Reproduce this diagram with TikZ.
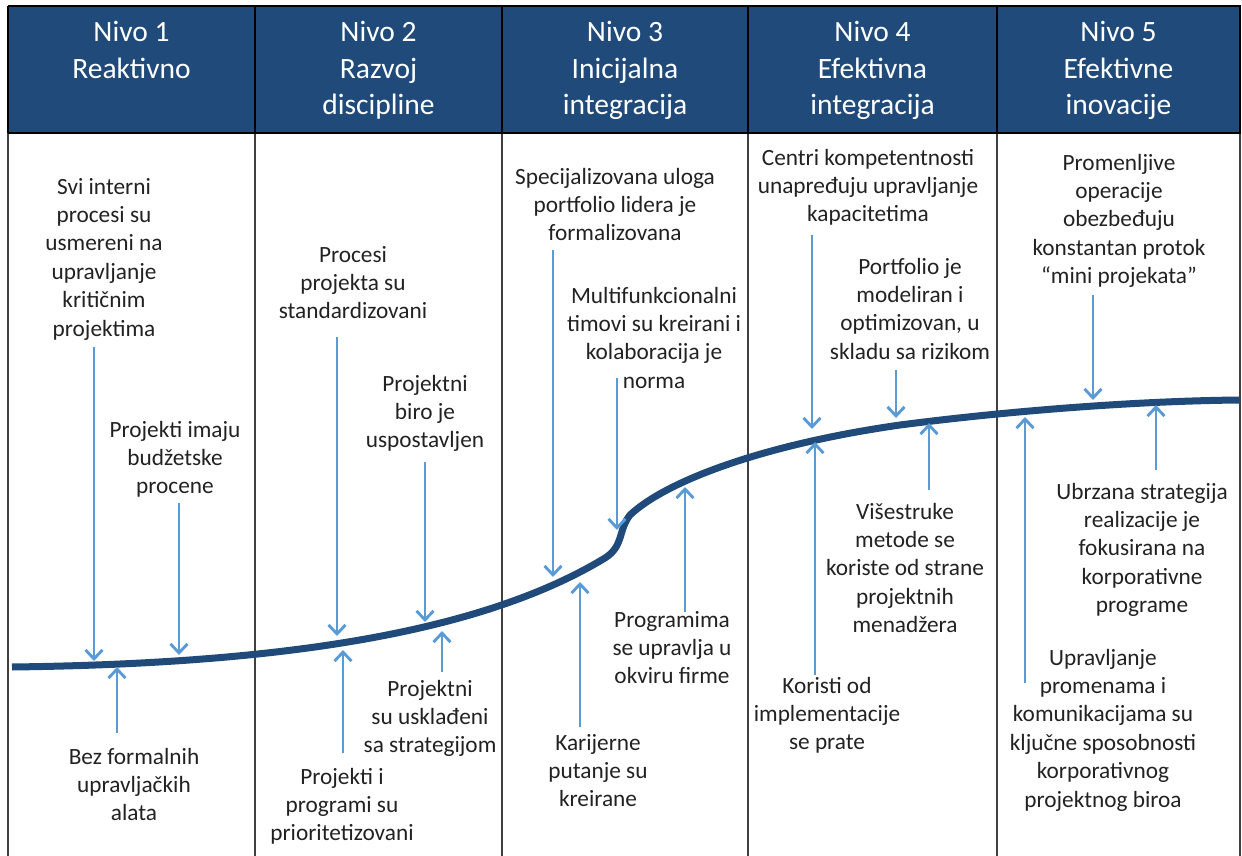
\documentclass[tikz,border=0pt]{standalone}
\usepackage{fontspec}
\setmainfont{Carlito}
\usetikzlibrary{arrows.meta}
\definecolor{hdr}{HTML}{1F4A7A}
\definecolor{arr}{HTML}{5B9BD5}
\definecolor{txt}{HTML}{222222}
\definecolor{gridc}{HTML}{404040}
\tikzset{
  hdrtxt/.style={text=white, font=\fontsize{29.5}{36.5}\selectfont, align=center, anchor=north, inner sep=0pt},
  body/.style={text=txt, font=\fontsize{23.3}{28.4}\selectfont, align=center, anchor=north, inner sep=0pt},
  pointer/.style={draw=arr, line width=2.9pt, -{Straight Barb[length=9pt,width=17pt]}},
  scurve/.style={draw=hdr, line width=7pt},
  gridline/.style={draw=gridc, line width=1.5pt},
  hdrline/.style={draw=black, line width=1.5pt}
}
\begin{document}
\begin{tikzpicture}[x=1pt,y=-1pt]
\useasboundingbox (0,0) rectangle (1242,856);
% header band
\fill[hdr] (8,6) rectangle (1241,133);
\foreach \x in {8,255,502,748,997,1240}{
  \draw[hdrline] (\x,6) -- (\x,133);
  \draw[gridline] (\x,133) -- (\x,856);
}
\draw[hdrline] (8,6) -- (1241,6);
\draw[hdrline] (8,133) -- (1241,133);
% header titles
\node[hdrtxt] (h1) at (131.5,16) {\strut Nivo 1\\Reaktivno};
\node[hdrtxt] (h2) at (378.5,16) {\strut Nivo 2\\Razvoj\\discipline};
\node[hdrtxt] (h3) at (625,16) {\strut Nivo 3\\Inicijalna\\integracija};
\node[hdrtxt] (h4) at (872.5,16) {\strut Nivo 4\\Efektivna\\integracija};
\node[hdrtxt] (h5) at (1118.5,16) {\strut Nivo 5\\Efektivne\\inovacije};
% S-curve
\draw[scurve] (12,667) .. controls (250,664) and (470,640) .. (605,558)
  .. controls (624,546) and (618,530) .. (630,515)
  .. controls (665,482) and (760,445) .. (900,425)
  .. controls (1000,412) and (1130,401) .. (1240,400);
% texts
\node[body] (t11) at (104,174) {\strut Svi interni\\procesi su\\usmereni na\\upravljanje\\kritičnim\\projektima};
\node[body] (t12) at (175,417) {\strut Projekti imaju\\budžetske\\procene};
\node[body] (t13) at (134,744) {\strut Bez formalnih\\upravljačkih\\alata};
\node[body] (t21) at (353,242) {\strut Procesi\\projekta su\\standardizovani};
\node[body] (t22) at (425,371) {\strut Projektni\\biro je\\uspostavljen};
\node[body] (t23) at (342,764) {\strut Projekti i\\programi su\\prioritetizovani};
\node[body] (t24) at (430,676) {\strut Projektni\\su usklađeni\\sa strategijom};
\node[body] (t31) at (615,164) {\strut Specijalizovana uloga\\portfolio lidera je\\formalizovana};
\node[body] (t32) at (654,283) {\strut Multifunkcionalni\\timovi su kreirani i\\kolaboracija je\\norma};
\node[body] (t33) at (598,730) {\strut Karijerne\\putanje su\\kreirane};
\node[body] (t34) at (672,607) {\strut Programima\\se upravlja u\\okviru firme};
\node[body] (t41) at (868,145) {\strut Centri kompetentnosti\\unapređuju upravljanje\\kapacitetima};
\node[body] (t42) at (910,254) {\strut Portfolio je\\modeliran i\\optimizovan, u\\skladu sa rizikom};
\node[body] (t43) at (905,499) {\strut Višestruke\\metode se\\koriste od strane\\projektnih\\menadžera};
\node[body] (t44) at (827,673) {\strut Koristi od\\implementacije\\se prate};
\node[body] (t51) at (1119,150) {\strut Promenljive\\operacije\\obezbeđuju\\konstantan protok\\“mini projekata”};
\node[body] (t52) at (1142,479) {\strut Ubrzana strategija\\realizacije je\\fokusirana na\\korporativne\\programe};
\node[body] (t53) at (1103,645) {\strut Upravljanje\\promenama i\\komunikacijama su\\ključne sposobnosti\\korporativnog\\projektnog biroa};
% arrow end points
\coordinate (s11) at (94,347);   \coordinate (e11) at (94,661);
\coordinate (s12) at (179,503);  \coordinate (e12) at (179,655);
\coordinate (s13) at (117,733);  \coordinate (e13) at (117,667);
\coordinate (s21) at (337,337);  \coordinate (e21) at (337,636);
\coordinate (s22) at (425,462);  \coordinate (e22) at (425,622);
\coordinate (s23) at (343,753);  \coordinate (e23) at (343,650);
\coordinate (s24) at (442,672);  \coordinate (e24) at (442,631);
\coordinate (s31) at (553,250);  \coordinate (e31) at (553,577);
\coordinate (s32) at (617,378);  \coordinate (e32) at (617,530);
\coordinate (s33) at (580,727);  \coordinate (e33) at (580,582);
\coordinate (s34) at (685,612);  \coordinate (e34) at (685,487);
\coordinate (s41) at (812,235);  \coordinate (e41) at (812,429);
\coordinate (s42) at (896,370);  \coordinate (e42) at (896,418);
\coordinate (s43) at (815,675);  \coordinate (e43) at (815,442);
\coordinate (s44) at (929,490);  \coordinate (e44) at (929,423);
\coordinate (s51) at (1093,295); \coordinate (e51) at (1093,400);
\coordinate (s52) at (1156,470); \coordinate (e52) at (1156,405);
\coordinate (s53) at (1025,683); \coordinate (e53) at (1025,417);
\foreach \i in {11,12,13,21,22,23,24,31,32,33,34,41,42,43,44,51,52,53}{
  \draw[pointer] (s\i) -- (e\i);
}
\end{tikzpicture}
\end{document}
